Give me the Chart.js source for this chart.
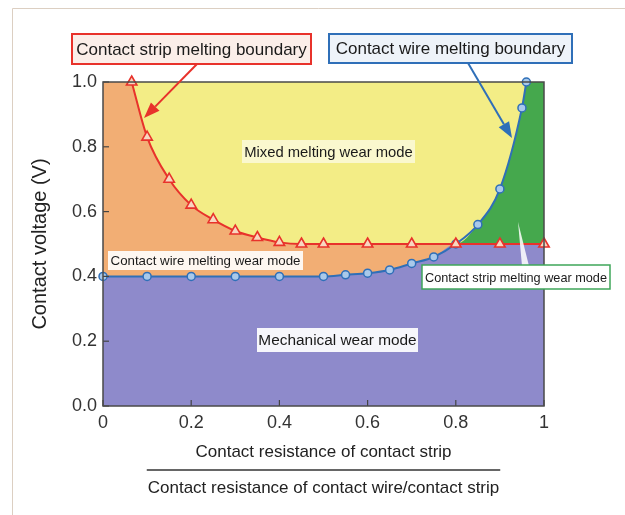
<!DOCTYPE html>
<html>
<head>
<meta charset="utf-8">
<script src="https://cdn.jsdelivr.net/npm/chart.js@4/dist/chart.umd.min.js"></script>
<style>
  html, body { margin: 0; padding: 0; background: #fff; }
  #wrap { width: 625px; height: 515px; position: relative; }
</style>
</head>
<body>
<div id="wrap"><canvas id="chart" width="625" height="515"></canvas></div>
<script>
// Valores
const stripX = [0.065, 0.1, 0.15, 0.2, 0.25, 0.3, 0.35, 0.4, 0.45, 0.5, 0.6, 0.7, 0.8, 0.9, 1.0];
const stripY = [1.0, 0.83, 0.70, 0.62, 0.575, 0.54, 0.52, 0.505, 0.5, 0.5, 0.5, 0.5, 0.5, 0.5, 0.5];
const wireX = [0, 0.1, 0.2, 0.3, 0.4, 0.5, 0.55, 0.6, 0.65, 0.7, 0.75, 0.8, 0.85, 0.9, 0.95, 0.96];
const wireY = [0.4, 0.4, 0.4, 0.4, 0.4, 0.4, 0.405, 0.41, 0.42, 0.44, 0.46, 0.5, 0.56, 0.67, 0.92, 1.0];
const crossX = 0.8; // onde as duas fronteiras se cruzam
const xTicks = [0, 0.2, 0.4, 0.6, 0.8, 1];
const yTicks = [0, 0.2, 0.4, 0.6, 0.8, 1.0];
const xTitle = ["Contact resistance of contact strip", "Contact resistance of contact wire/contact strip"];
const yTitle = "Contact voltage (V)";

const FONT = "'Liberation Sans', Arial, sans-serif";

function pts(xs, ys) {
    return xs.map((x, i) => ({ x: x, y: ys[i] }));
}
const strip = pts(stripX, stripY);
const wire = pts(wireX, wireY);

// Envelopes para as regiões coloridas
const lowerEnv = wire.filter(p => p.x <= crossX).concat(strip.filter(p => p.x > crossX));
const upperEnv = strip.filter(p => p.x < crossX).concat(wire.filter(p => p.x >= crossX));
const stripTail = strip.filter(p => p.x >= crossX);

function fillSet(data, fill, color) {
    return {
        data: data,
        fill: fill,
        backgroundColor: color,
        borderWidth: 0,
        pointRadius: 0,
        pointHoverRadius: 0,
        cubicInterpolationMode: "monotone"
    };
}

// Fundo laranja da área do gráfico + moldura
const areaPlugin = {
    id: "areaPlugin",
    beforeDatasetsDraw(chart) {
        const { ctx, chartArea: a } = chart;
        ctx.save();
        ctx.fillStyle = "#F2AE74";
        ctx.fillRect(a.left, a.top, a.right - a.left, a.bottom - a.top);
        ctx.restore();
    },
    afterDatasetsDraw(chart) {
        const { ctx, chartArea: a, scales } = chart;
        ctx.save();
        // ticks para dentro
        ctx.strokeStyle = "#444";
        ctx.lineWidth = 1.2;
        scales.x.ticks.forEach((t, i) => {
            const px = scales.x.getPixelForTick(i);
            ctx.beginPath();
            ctx.moveTo(px, a.bottom);
            ctx.lineTo(px, a.bottom - 6);
            ctx.stroke();
        });
        scales.y.ticks.forEach((t, i) => {
            const py = scales.y.getPixelForTick(i);
            ctx.beginPath();
            ctx.moveTo(a.left, py);
            ctx.lineTo(a.left + 6, py);
            ctx.stroke();
        });
        ctx.strokeStyle = "#4a4a4a";
        ctx.lineWidth = 1.5;
        ctx.strokeRect(a.left, a.top, a.right - a.left, a.bottom - a.top);
        ctx.restore();
    }
};

function drawBox(ctx, text, x1, y1, x2, y2, size, bg, border) {
    ctx.fillStyle = bg;
    ctx.fillRect(x1, y1, x2 - x1, y2 - y1);
    if (border) {
        ctx.strokeStyle = border;
        ctx.lineWidth = 2;
        ctx.strokeRect(x1, y1, x2 - x1, y2 - y1);
    }
    ctx.fillStyle = "#1a1a1a";
    ctx.font = size + "px " + FONT;
    ctx.textAlign = "center";
    ctx.textBaseline = "middle";
    ctx.fillText(text, (x1 + x2) / 2, (y1 + y2) / 2 + 1);
}

function drawArrow(ctx, x1, y1, x2, y2, color) {
    const ang = Math.atan2(y2 - y1, x2 - x1);
    const len = 16, half = 6;
    const bx = x2 - len * Math.cos(ang), by = y2 - len * Math.sin(ang);
    ctx.strokeStyle = color;
    ctx.fillStyle = color;
    ctx.lineWidth = 2;
    ctx.beginPath();
    ctx.moveTo(x1, y1);
    ctx.lineTo(bx, by);
    ctx.stroke();
    ctx.beginPath();
    ctx.moveTo(x2, y2);
    ctx.lineTo(bx + half * Math.sin(ang), by - half * Math.cos(ang));
    ctx.lineTo(bx - half * Math.sin(ang), by + half * Math.cos(ang));
    ctx.closePath();
    ctx.fill();
}

// Rótulos, setas e a barra de fração do eixo x
const notePlugin = {
    id: "notePlugin",
    afterDraw(chart) {
        const ctx = chart.ctx;
        ctx.save();
        // moldura clara da figura
        ctx.strokeStyle = "#DCCFC2";
        ctx.lineWidth = 1;
        ctx.beginPath();
        ctx.moveTo(12.5, 515);
        ctx.lineTo(12.5, 8.5);
        ctx.lineTo(625, 8.5);
        ctx.stroke();

        drawArrow(ctx, 197, 64, 144, 118, "#E8322B");
        drawArrow(ctx, 468, 63, 512, 138, "#2F6FB8");
        drawBox(ctx, "Contact strip melting boundary", 72, 34, 311, 64, 17, "#FBEEE9", "#E8322B");
        drawBox(ctx, "Contact wire melting boundary", 329, 34, 572, 63, 17, "#EEF3F9", "#2F6FB8");

        drawBox(ctx, "Mixed melting wear mode", 242, 140, 415, 163, 14.8, "rgba(255,255,255,0.6)", null);
        drawBox(ctx, "Contact wire melting wear mode", 108, 251, 303, 270, 13.3, "rgba(255,255,255,0.9)", null);
        drawBox(ctx, "Mechanical wear mode", 257, 328, 418, 352, 15.4, "rgba(255,255,255,0.92)", null);

        // ponteiro do rótulo verde
        ctx.fillStyle = "rgba(255,255,255,0.85)";
        ctx.beginPath();
        ctx.moveTo(518, 222);
        ctx.lineTo(522, 266);
        ctx.lineTo(529, 266);
        ctx.closePath();
        ctx.fill();
        drawBox(ctx, "Contact strip melting wear mode", 422, 265, 610, 289, 12.7, "#ffffff", null);
        ctx.strokeStyle = "#3FA65A";
        ctx.lineWidth = 1.5;
        ctx.strokeRect(422, 265, 188, 24);

        // barra da fração
        const a = chart.chartArea;
        ctx.font = "17px " + FONT;
        const w = ctx.measureText(xTitle[1]).width + 2;
        const cx = (a.left + a.right) / 2;
        ctx.strokeStyle = "#333";
        ctx.lineWidth = 1.5;
        ctx.beginPath();
        ctx.moveTo(cx - w / 2, 470);
        ctx.lineTo(cx + w / 2, 470);
        ctx.stroke();
        ctx.restore();
    }
};

new Chart(document.getElementById("chart"), {
    type: "line",
    data: {
        datasets: [
            {
                label: "Contact strip melting boundary",
                data: strip,
                borderColor: "#E8322B",
                borderWidth: 2,
                backgroundColor: "#F8D6C0",
                pointStyle: "triangle",
                pointRadius: 6,
                pointBorderWidth: 1.6,
                fill: false,
                clip: false,
                cubicInterpolationMode: "monotone"
            },
            {
                label: "Contact wire melting boundary",
                data: wire,
                borderColor: "#2F6FB8",
                borderWidth: 2,
                backgroundColor: "#A9C9EA",
                pointStyle: "circle",
                pointRadius: 4,
                pointBorderWidth: 1.5,
                fill: false,
                clip: false,
                cubicInterpolationMode: "monotone"
            },
            fillSet(lowerEnv, "start", "#8E8ACB"),
            fillSet(upperEnv, "end", "#F3ED86"),
            fillSet(stripTail, "end", "#45A84D")
        ]
    },
    options: {
        responsive: false,
        animation: false,
        layout: { padding: { left: 0, right: 81, top: 82, bottom: 0 } },
        plugins: {
            legend: { display: false },
            tooltip: { enabled: false }
        },
        scales: {
            x: {
                type: "linear",
                min: 0,
                max: 1,
                afterBuildTicks: s => { s.ticks = xTicks.map(v => ({ value: v })); },
                afterFit: s => { s.height = 109; },
                grid: { drawOnChartArea: false, drawTicks: false },
                border: { display: false },
                ticks: {
                    padding: 6,
                    color: "#333",
                    font: { family: FONT, size: 18 },
                    callback: v => String(v)
                },
                title: {
                    display: true,
                    text: xTitle,
                    color: "#222",
                    font: { family: FONT, size: 17, lineHeight: "36px" },
                    padding: { top: 0, bottom: 9 }
                }
            },
            y: {
                min: 0,
                max: 1,
                afterBuildTicks: s => { s.ticks = yTicks.map(v => ({ value: v })); },
                afterFit: s => { s.width = 103; },
                grid: { drawOnChartArea: false, drawTicks: false },
                border: { display: false },
                ticks: {
                    padding: 6,
                    color: "#333",
                    font: { family: FONT, size: 18 },
                    callback: v => Number(v).toFixed(1)
                },
                title: {
                    display: true,
                    text: yTitle,
                    color: "#222",
                    font: { family: FONT, size: 20 },
                    padding: { top: 28, bottom: 0 }
                }
            }
        }
    },
    plugins: [areaPlugin, notePlugin]
});
</script>
</body>
</html>
